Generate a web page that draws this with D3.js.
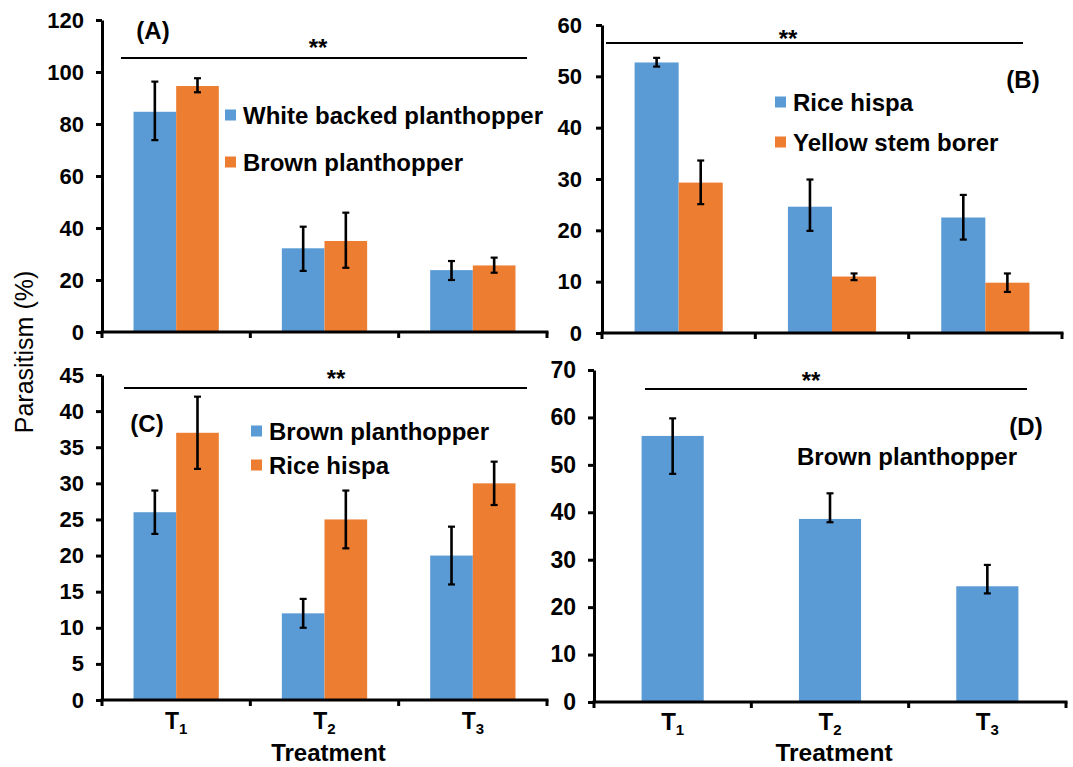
<!DOCTYPE html>
<html><head><meta charset="utf-8">
<script src="https://cdn.jsdelivr.net/npm/d3@7"></script>
<style>
body{margin:0;background:#fff}
svg{display:block}
text{font-family:"Liberation Sans",Arial,sans-serif}
</style>
</head><body>
<svg id="chart" width="1073" height="767"></svg>
<script>
// ---------------- DATA ----------------
const categories = ["T1", "T2", "T3"];
const yAxisTitle = "Parasitism (%)";
const xAxisTitle = "Treatment";
const sigMark = "**";

// Panel (A)
const seriesNamesA = ["White backed planthopper", "Brown planthopper"];
const valuesA_wbph = [84.7, 32.2, 23.8];
const upperA_wbph  = [96.3, 40.5, 27.3];
const lowerA_wbph  = [73.8, 23.5, 20.0];
const valuesA_bph  = [94.6, 35.0, 25.6];
const upperA_bph   = [97.6, 45.9, 28.6];
const lowerA_bph   = [92.2, 24.7, 22.8];
const ticksA = [0, 20, 40, 60, 80, 100, 120];

// Panel (B)
const seriesNamesB = ["Rice hispa", "Yellow stem borer"];
const valuesB_hispa = [52.7, 24.6, 22.5];
const upperB_hispa  = [53.6, 29.9, 26.9];
const lowerB_hispa  = [51.9, 19.9, 18.2];
const valuesB_ysb   = [29.3, 11.0, 9.8];
const upperB_ysb    = [33.6, 11.6, 11.6];
const lowerB_ysb    = [25.1, 10.3, 8.0];
const ticksB = [0, 10, 20, 30, 40, 50, 60];

// Panel (C)
const seriesNamesC = ["Brown planthopper", "Rice hispa"];
const valuesC_bph   = [26, 12, 20];
const upperC_bph    = [29, 14, 24];
const lowerC_bph    = [23, 10, 16];
const valuesC_hispa = [37, 25, 30];
const upperC_hispa  = [42, 29, 33];
const lowerC_hispa  = [32, 21, 27];
const ticksC = [0, 5, 10, 15, 20, 25, 30, 35, 40, 45];

// Panel (D)
const seriesNamesD = ["Brown planthopper"];
const valuesD_bph = [56.1, 38.6, 24.4];
const upperD_bph  = [59.8, 44.0, 28.9];
const lowerD_bph  = [48.1, 37.9, 22.9];
const ticksD = [0, 10, 20, 30, 40, 50, 60, 70];

// ---------------- STYLE / LAYOUT ----------------
const BLUE = "#5B9BD5", ORANGE = "#ED7D31";
const FONT = '"Liberation Sans", Arial, sans-serif';

const panels = [
  { label: "(A)", labelX: 153, labelY: 39,
    x0: 102, x1: 547, yTop: 20, yBottom: 332, ticks: ticksA, tickFont: 22, tickPad: 12,
    groupFrac: 0.575,
    series: [
      { name: seriesNamesA[0], values: valuesA_wbph, upper: upperA_wbph, lower: lowerA_wbph, color: BLUE },
      { name: seriesNamesA[1], values: valuesA_bph,  upper: upperA_bph,  lower: lowerA_bph,  color: ORANGE }
    ],
    legend: { x: 225, ys: [115, 162], font: 24, square: true },
    sig: { x1: 121, x2: 527, y: 58, tx: 318, ty: 55.5 },
    xLabels: false },
  { label: "(B)", labelX: 1023, labelY: 88,
    x0: 602, x1: 1062, yTop: 25, yBottom: 333, ticks: ticksB, tickFont: 22, tickPad: 14,
    groupFrac: 0.575,
    series: [
      { name: seriesNamesB[0], values: valuesB_hispa, upper: upperB_hispa, lower: lowerB_hispa, color: BLUE },
      { name: seriesNamesB[1], values: valuesB_ysb,   upper: upperB_ysb,   lower: lowerB_ysb,   color: ORANGE }
    ],
    legend: { x: 775, ys: [102, 142], font: 24, square: true },
    sig: { x1: 606, x2: 1023, y: 43, tx: 788, ty: 46.5 },
    xLabels: false },
  { label: "(C)", labelX: 147, labelY: 432,
    x0: 102, x1: 547, yTop: 375, yBottom: 700, ticks: ticksC, tickFont: 22, tickPad: 12,
    groupFrac: 0.575,
    series: [
      { name: seriesNamesC[0], values: valuesC_bph,   upper: upperC_bph,   lower: lowerC_bph,   color: BLUE },
      { name: seriesNamesC[1], values: valuesC_hispa, upper: upperC_hispa, lower: lowerC_hispa, color: ORANGE }
    ],
    legend: { x: 251, ys: [431, 465], font: 24, square: true },
    sig: { x1: 124, x2: 527, y: 388, tx: 336, ty: 386.5 },
    xLabels: true, catFont: 23, catBase: 729, titleFont: 24, titleBase: 761 },
  { label: "(D)", labelX: 1026, labelY: 435,
    x0: 594, x1: 1066, yTop: 370, yBottom: 702, ticks: ticksD, tickFont: 23, tickPad: 12,
    groupFrac: 0.395,
    series: [
      { name: seriesNamesD[0], values: valuesD_bph, upper: upperD_bph, lower: lowerD_bph, color: BLUE }
    ],
    legend: { x: 797, ys: [456], font: 24, square: false },
    sig: { x1: 645, x2: 1027, y: 389, tx: 811, ty: 388.5 },
    xLabels: true, catFont: 24, catBase: 730, titleFont: 24.5, titleBase: 761 }
];

const svg = d3.select("#chart");
svg.append("rect").attr("width", 1073).attr("height", 767).attr("fill", "#fff");

function drawPanel(p) {
  const g = svg.append("g");
  const maxV = p.ticks[p.ticks.length - 1];
  const y = d3.scaleLinear().domain([0, maxV]).range([p.yBottom, p.yTop]);
  const xb = d3.scaleBand().domain(categories).range([p.x0, p.x1]);
  const groupW = xb.bandwidth() * p.groupFrac;
  const xs = d3.scaleBand().domain(d3.range(p.series.length)).range([0, groupW]);

  // bars
  p.series.forEach((s, si) => {
    const bx = (c) => xb(c) + xb.bandwidth() / 2 - groupW / 2 + xs(si);
    g.append("g").selectAll("rect").data(categories).enter().append("rect")
      .attr("x", c => bx(c))
      .attr("y", (c, i) => y(s.values[i]))
      .attr("width", xs.bandwidth())
      .attr("height", (c, i) => y(0) - y(s.values[i]))
      .attr("fill", s.color);
  });

  // error bars
  p.series.forEach((s, si) => {
    const cx = (c) => xb(c) + xb.bandwidth() / 2 - groupW / 2 + xs(si) + xs.bandwidth() / 2;
    const eg = g.append("g").attr("stroke", "#000").attr("stroke-width", 2.6).attr("fill", "none");
    categories.forEach((c, i) => {
      const x = cx(c);
      eg.append("line").attr("x1", x).attr("x2", x).attr("y1", y(s.upper[i])).attr("y2", y(s.lower[i]));
      eg.append("line").attr("x1", x - 3.5).attr("x2", x + 3.5).attr("y1", y(s.upper[i])).attr("y2", y(s.upper[i])).attr("stroke-width", 2.2);
      eg.append("line").attr("x1", x - 3.5).attr("x2", x + 3.5).attr("y1", y(s.lower[i])).attr("y2", y(s.lower[i])).attr("stroke-width", 2.2);
    });
  });

  // y axis
  const ax = d3.axisLeft(y).tickValues(p.ticks).tickSize(6).tickSizeOuter(0).tickPadding(p.tickPad);
  const ga = g.append("g").attr("transform", `translate(${p.x0},0)`).call(ax);
  ga.select(".domain").attr("stroke", "#000").attr("stroke-width", 3);
  ga.selectAll(".tick line").attr("stroke", "#000").attr("stroke-width", 3);
  ga.selectAll(".tick text")
    .attr("fill", "#000")
    .style("font-family", FONT)
    .style("font-size", p.tickFont + "px")
    .style("font-weight", "bold");

  // x axis (line + boundary ticks between categories)
  const bounds = categories.map(c => xb(c)).concat([xb.range()[1]]);
  g.append("line").attr("x1", p.x0 - 1.5).attr("x2", p.x1 + 1.5)
    .attr("y1", y(0)).attr("y2", y(0)).attr("stroke", "#000").attr("stroke-width", 3);
  g.append("g").selectAll("line").data(bounds).enter().append("line")
    .attr("x1", d => d).attr("x2", d => d)
    .attr("y1", y(0)).attr("y2", y(0) + 6)
    .attr("stroke", "#000").attr("stroke-width", 3);

  // category labels with subscripts
  if (p.xLabels) {
    categories.forEach(c => {
      const t = g.append("text")
        .attr("x", xb(c) + xb.bandwidth() / 2)
        .attr("y", p.catBase)
        .attr("text-anchor", "middle")
        .attr("font-size", p.catFont).attr("font-weight", "bold").attr("fill", "#000");
      t.append("tspan").text(c.charAt(0));
      t.append("tspan").attr("font-size", 15).attr("dy", 5).text(c.slice(1));
    });
    g.append("text")
      .attr("x", xb(categories[1]) + xb.bandwidth() / 2 + 4)
      .attr("y", p.titleBase)
      .attr("text-anchor", "middle")
      .attr("font-size", p.titleFont).attr("font-weight", "bold").attr("fill", "#000")
      .text(xAxisTitle);
  }

  // significance line and mark
  g.append("line").attr("x1", p.sig.x1).attr("x2", p.sig.x2)
    .attr("y1", p.sig.y).attr("y2", p.sig.y).attr("stroke", "#000").attr("stroke-width", 2);
  g.append("text").attr("x", p.sig.tx).attr("y", p.sig.ty)
    .attr("text-anchor", "middle").attr("font-size", 24).attr("font-weight", "bold")
    .attr("fill", "#000").text(sigMark);

  // panel label
  g.append("text").attr("x", p.labelX).attr("y", p.labelY)
    .attr("text-anchor", "middle").attr("font-size", 24).attr("font-weight", "bold")
    .attr("fill", "#000").text(p.label);

  // legend
  p.series.forEach((s, si) => {
    const ly = p.legend.ys[si];
    if (p.legend.square) {
      g.append("rect").attr("x", p.legend.x).attr("y", ly - 5.5)
        .attr("width", 11).attr("height", 11).attr("fill", s.color);
    }
    g.append("text")
      .attr("x", p.legend.square ? p.legend.x + 18 : p.legend.x)
      .attr("y", ly)
      .attr("dominant-baseline", "central")
      .attr("font-size", p.legend.font).attr("font-weight", "bold").attr("fill", "#000")
      .text(s.name);
  });
}

panels.forEach(drawPanel);

// shared y-axis title
svg.append("text")
  .attr("transform", "translate(33,352) rotate(-90)")
  .attr("text-anchor", "middle")
  .attr("font-family", FONT)
  .attr("font-size", 25).attr("fill", "#000")
  .text(yAxisTitle);
</script>
</body></html>
